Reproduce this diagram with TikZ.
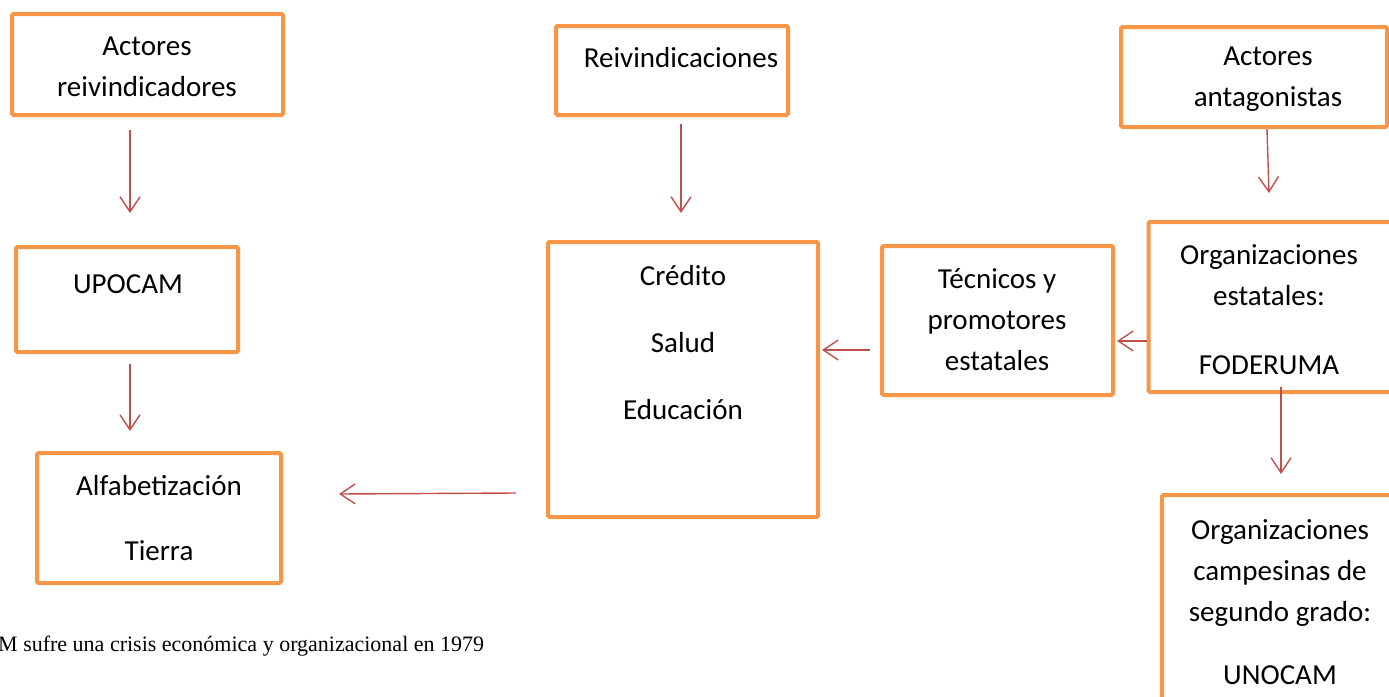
\documentclass[tikz,border=0pt]{standalone}
\usepackage{fontspec}
\setmainfont{Carlito}
\newfontfamily\notefont{Liberation Serif}
\usetikzlibrary{arrows.meta}
\definecolor{boxorange}{HTML}{F79646}
\definecolor{arrowred}{HTML}{C0504D}

\begin{document}
\begin{tikzpicture}[x=1pt,y=-1pt,
    box/.style={draw=boxorange, line width=4pt, rounded corners=1.5pt, inner sep=0pt},
    lbl/.style={align=center, font=\fontsize{29}{41}\selectfont, inner sep=0pt},
    link/.style={draw=arrowred, line width=1.4pt, -{Straight Barb[length=15pt,width=20pt]}}]

    \useasboundingbox (0,0) rectangle (1389,696);
    \clip (0,0) rectangle (1389,696);

    % Draw boxes
    \node[box, minimum width=271pt, minimum height=101pt] (actrei) at (147.5,64.5) {};
    \node[box, minimum width=232pt, minimum height=89pt] (reivin) at (672,70.5) {};
    \node[box, minimum width=266pt, minimum height=100pt] (actant) at (1254,77) {};
    \node[box, minimum width=222pt, minimum height=105pt] (upocam) at (127,299.5) {};
    \node[box, minimum width=244pt, minimum height=130pt] (alfab) at (159,518) {};
    \node[box, minimum width=270pt, minimum height=275pt] (credito) at (683,379.5) {};
    \node[box, minimum width=231pt, minimum height=149pt] (tecnicos) at (997.5,320.5) {};
    \node[box, minimum width=243pt, minimum height=170pt] (orgest) at (1270,307) {};
    \node[box, minimum width=233pt, minimum height=215pt] (unocam) at (1278.5,602.5) {};

    % Texts inside the boxes
    \node[lbl] (actrei-t) at (147,67) {Actores\\reivindicadores};
    \node[lbl] (reivin-t) at (681,58) {Reivindicaciones};
    \node[lbl] (actant-t) at (1268,79) {Actores\\antagonistas};
    \node[lbl] (upocam-t) at (128,284) {UPOCAM};
    \node[lbl] (alfab-t) at (159,518.5) {Alfabetización\\[24pt]Tierra};
    \node[lbl] (credito-t) at (683,343) {Crédito\\[26pt]Salud\\[26pt]Educación};
    \node[lbl] (tecnicos-t) at (997,320) {Técnicos y\\promotores\\estatales};
    \node[lbl] (orgest-t) at (1269,310) {Organizaciones\\estatales:\\[28pt]FODERUMA};
    \node[lbl] (unocam-t) at (1280,602) {Organizaciones\\campesinas de\\segundo grado:\\[22pt]UNOCAM};

    % Note below
    \node[anchor=base west, inner sep=0pt, font=\notefont\fontsize{22}{26}\selectfont] (crisis) at (-2,651)
        {M sufre una crisis económica y organizacional en 1979};

    % Draw arrows
    \draw[link] ([xshift=-17.5pt,yshift=-13pt]actrei.south) -- ([xshift=3pt,yshift=32pt]upocam.north);
    \draw[link] ([xshift=3pt,yshift=-10pt]upocam.south) -- ([xshift=-29pt,yshift=20pt]alfab.north);
    \draw[link] ([xshift=9pt,yshift=-7pt]reivin.south) -- ([xshift=-2pt,yshift=27pt]credito.north);
    \draw[link] ([xshift=13pt]actant.south) -- ([xshift=-1pt,yshift=27pt]orgest.north);
    \draw[link] ([xshift=11pt,yshift=7pt]orgest.south) -- ([xshift=2.5pt,yshift=19pt]unocam.north);
    \draw[link] ([yshift=-34pt]orgest.west) -- ([xshift=2pt,yshift=-20.5pt]tecnicos.east);
    \draw[link] ([xshift=-10pt,yshift=-29.5pt]tecnicos.west) -- ([xshift=2pt,yshift=29.5pt]credito.east);
    \draw[link] ([xshift=-30pt,yshift=-113.5pt]credito.west) -- ([xshift=56pt,yshift=24pt]alfab.east);

\end{tikzpicture}
\end{document}
